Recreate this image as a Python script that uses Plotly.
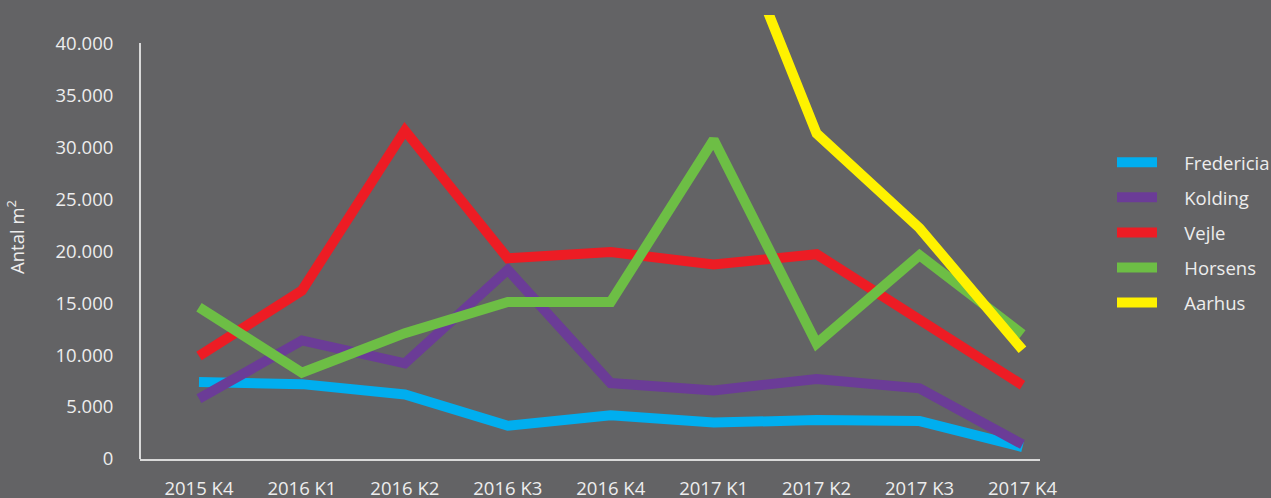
import plotly.graph_objects as go

categories = ["2015 K4", "2016 K1", "2016 K2", "2016 K3", "2016 K4",
              "2017 K1", "2017 K2", "2017 K3", "2017 K4"]

fredericia = [7400, 7200, 6200, 3200, 4200, 3500, 3750, 3650, 1150]
kolding = [5800, 11400, 9200, 18200, 7300, 6600, 7700, 6800, 1400]
vejle = [9900, 16200, 31600, 19300, 19900, 18700, 19700, 13400, 7100]
horsens = [14600, 8300, 12100, 15100, 15100, 30700, 11100, 19600, 12000]
aarhus = [None, None, None, None, None, 56000, 31300, 22200, 10500]

series_names = ["Fredericia", "Kolding", "Vejle", "Horsens", "Aarhus"]
series_values = [fredericia, kolding, vejle, horsens, aarhus]
series_colors = ["#00AEEF", "#6B3C97", "#ED1C24", "#6DBE45", "#FFF200"]

y_ticks = [0, 5000, 10000, 15000, 20000, 25000, 30000, 35000, 40000]
y_tick_labels = ["0", "5.000", "10.000", "15.000", "20.000", "25.000",
                 "30.000", "35.000", "40.000"]

BG = "#636365"
TXT = "#EDEDED"
FONT = "Open Sans"
FS = 18.5
PAD = "\u00a0\u00a0\u00a0\u00a0\u2009"

fig = go.Figure()
for name, vals, col in zip(series_names, series_values, series_colors):
    fig.add_trace(go.Scatter(
        x=list(range(len(categories))), y=vals, name=PAD + name, mode="lines",
        line=dict(color=col, width=10), legendgroup=name,
        connectgaps=False, hoverinfo="skip"))

fig.update_layout(
    width=1271, height=498,
    paper_bgcolor=BG, plot_bgcolor=BG,
    margin=dict(l=140, r=231, t=15, b=39, autoexpand=False),
    font=dict(family=FONT, size=FS, color=TXT),
    showlegend=True,
    legend=dict(x=1.08, y=0.71, xanchor="left", yanchor="top",
                bgcolor="rgba(0,0,0,0)", tracegroupgap=8,
                font=dict(family=FONT, size=FS, color=TXT),
                itemwidth=40),
    xaxis=dict(
        tickmode="array", tickvals=list(range(len(categories))),
        ticktext=categories, range=[-0.573, 8.17],
        showgrid=False, zeroline=False,
        showline=True, linecolor="#D9D9D9", linewidth=2,
        ticks="outside", ticklen=12, tickcolor="rgba(0,0,0,0)",
        tickfont=dict(family=FONT, size=FS, color=TXT), automargin=False),
    yaxis=dict(
        tickmode="array", tickvals=y_ticks, ticktext=y_tick_labels,
        range=[0, 42700], showgrid=False, zeroline=False, showline=False,
        ticks="outside", ticklen=22, tickcolor="rgba(0,0,0,0)",
        tickfont=dict(family=FONT, size=FS, color=TXT),
        title=dict(text="Antal m<sup>2</sup>", standoff=26,
                   font=dict(family=FONT, size=FS, color=TXT)),
        automargin=False),
    shapes=[dict(type="line", xref="paper", yref="y", x0=0, x1=0,
                 y0=0, y1=40000, line=dict(color="#D9D9D9", width=2),
                 layer="below")],
)

fig.write_html(
    "out.html",
    config={"displayModeBar": False},
    post_script="document.body.style.margin='0';document.body.style.padding='0';document.body.style.overflow='hidden';",
)
